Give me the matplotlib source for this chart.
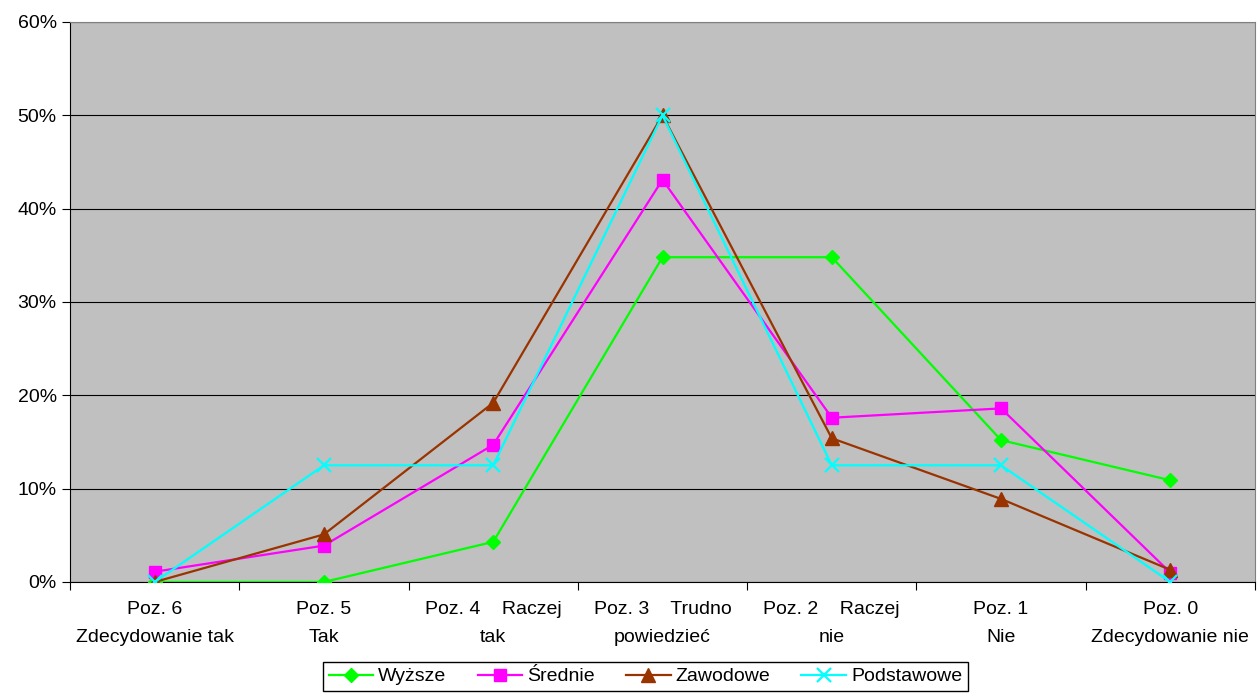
import matplotlib
matplotlib.use("Agg")
import matplotlib.pyplot as plt
from matplotlib.ticker import FixedLocator, PercentFormatter, NullFormatter

plt.rcParams['font.family'] = ['Liberation Sans', 'DejaVu Sans']

categories = ["Poz. 6\nZdecydowanie tak", "Poz. 5\nTak", "Poz. 4    Raczej\ntak",
              "Poz. 3    Trudno\npowiedzieć", "Poz. 2    Raczej\nnie", "Poz. 1\nNie",
              "Poz. 0\nZdecydowanie nie"]
wyzsze = [0.0, 0.0, 4.3, 34.8, 34.8, 15.2, 10.9]
srednie = [1.1, 3.9, 14.7, 43.1, 17.6, 18.6, 1.0]
zawodowe = [0.0, 5.1, 19.2, 50.0, 15.4, 8.9, 1.3]
podstawowe = [0.0, 12.5, 12.5, 50.0, 12.5, 12.5, 0.0]
yticks = [0, 10, 20, 30, 40, 50, 60]

fig = plt.figure(figsize=(12.57, 6.93), dpi=100)
ax = fig.add_axes([70/1257, 1-582/693, 1185/1257, 560/693])
ax.set_facecolor('#c0c0c0')
x = list(range(len(categories)))

ax.plot(x, wyzsze, color='#00ff00', marker='D', markersize=7, lw=1.6, label='Wyższe', zorder=3)
ax.plot(x, srednie, color='#ff00ff', marker='s', markersize=9, lw=1.6, label='Średnie', zorder=3)
ax.plot(x, zawodowe, color='#993300', marker='^', markersize=10, lw=1.6, label='Zawodowe', zorder=3)
ax.plot(x, podstawowe, color='#00ffff', marker='x', markersize=10, mew=1.6, lw=1.6, label='Podstawowe', zorder=4)

ax.set_xlim(-0.5, len(categories) - 0.5)
ax.set_ylim(0, 60)
ax.set_yticks(yticks)
ax.yaxis.set_major_formatter(PercentFormatter(decimals=0))
ax.grid(axis='y', color='black', lw=0.8)
ax.set_axisbelow(True)

ax.xaxis.set_major_locator(FixedLocator([i - 0.5 for i in range(len(categories) + 1)]))
ax.xaxis.set_major_formatter(NullFormatter())
ax.xaxis.set_minor_locator(FixedLocator(x))
ax.set_xticklabels(categories, minor=True, linespacing=1.85)
ax.tick_params(axis='x', which='minor', length=0, labelsize=14, pad=14)
ax.tick_params(axis='x', which='major', length=6, direction='out', width=0.8)
ax.tick_params(axis='y', length=6, direction='out', labelsize=14, width=0.8)

for s in ['top', 'right']:
    ax.spines[s].set_color('#808080')
for s in ['left', 'bottom']:
    ax.spines[s].set_color('black')

leg = fig.legend(loc='upper center', bbox_to_anchor=(0.5135, 1-662/693), ncol=4,
                 fancybox=False, edgecolor='black', fontsize=14, borderaxespad=0,
                 handlelength=2.3, columnspacing=1.6, handletextpad=0.25, borderpad=0.3,
                 framealpha=1)
leg.get_frame().set_linewidth(1.0)

fig.savefig('out.png', dpi=100)
